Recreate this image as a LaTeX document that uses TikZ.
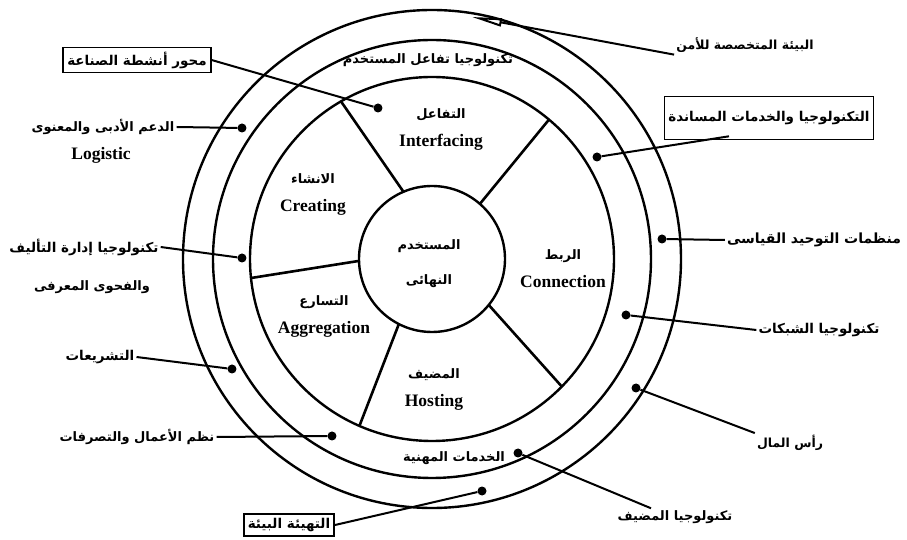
\documentclass[tikz,border=0pt]{standalone}
\usepackage{fontspec}
\setmainfont{Liberation Serif}
\newfontfamily\arabicfont[Script=Arabic]{DejaVu Sans}
\TeXXeTstate=1
\usetikzlibrary{arrows.meta}
\newcommand{\artxt}[1]{{\arabicfont\bfseries\beginR #1\endR}}
\newcommand{\sectxt}[2]{{\arabicfont\bfseries\fontsize{13}{14}\selectfont\beginR #1\endR}\\{\bfseries #2}}
\newcommand{\fsz}[1]{\fontsize{#1}{15}\selectfont}

\begin{document}
\begin{tikzpicture}[x=1pt,y=1pt,
  ring/.style={line width=2.4pt},
  spoke/.style={line width=2.6pt},
  link/.style={line width=2pt},
  dot/.style={circle,fill,inner sep=0pt,minimum size=9pt},
  sector/.style={align=center,font=\fontsize{17.5}{28}\selectfont},
  lbl/.style={inner sep=2pt,font=\fsz{13}},
  boxed/.style={lbl,font=\fsz{13.5},draw,line width=1.6pt,inner sep=4pt}]
\useasboundingbox (-432,-281) rectangle (475,259);
\coordinate (o) at (0,0);

% circles
\draw[ring] (o) circle[radius=73pt];
\draw[ring] (o) circle[radius=182pt];
\draw[ring] (o) circle[radius=219pt];
\draw[ring] (o) circle[radius=249pt];

% spokes
\draw[spoke] (113:73pt) -- (120:182pt);
\draw[spoke] (49:73pt) -- (50:182pt);
\draw[spoke] (181.5:73pt) -- (186:182pt);
\draw[spoke] (243:73pt) -- (246.5:182pt);
\draw[spoke] (-39:73pt) -- (-44.5:182pt);

% sectors
\node[sector,font=\fontsize{13}{35}\selectfont] (user) at (-3,-5) {\artxt{المستخدم}\\\artxt{النهائى}};
\node[sector] (interf) at (9,130) {\sectxt{التفاعل}{Interfacing}};
\node[sector] (create) at (-119,65) {\sectxt{الانشاء}{Creating}};
\node[sector] (connect) at (131,-10) {\sectxt{الربط}{Connection}};
\node[sector] (aggr) at (-108,-57) {\sectxt{التسارع}{Aggregation}};
\node[sector] (host) at (2,-130) {\sectxt{المضيف}{Hosting}};

% ring texts
\node[lbl] (uitech) at (-4,199) {\artxt{تكنولوجيا تفاعل المستخدم}};
\node[lbl] (prof) at (22,-199) {\artxt{الخدمات المهنية}};

% dots
\coordinate (tsec) at (40,242);
\node[dot] (dind) at (-54,151) {};
\node[dot] (dlog) at (-190,131) {};
\node[dot] (dcms) at (-190,1) {};
\node[dot] (dlaw) at (-200,-110) {};
\node[dot] (dbiz) at (-100,-177) {};
\node[dot] (denv) at (50,-232) {};
\node[dot] (dhost) at (86,-194) {};
\node[dot] (dcap) at (204,-129) {};
\node[dot] (dnet) at (194,-56) {};
\node[dot] (dstd) at (230,20) {};
\node[dot] (dsup) at (165,102) {};

% labels
\node[lbl,font=\fsz{12.5}] (sec) at (313,214) {\artxt{البيئة المتخصصة للأمن}};
\node[boxed] (ind) at (-295,199) {\artxt{محور أنشطة الصناعة}};
\node[lbl] (logar) at (-329,132) {\artxt{الدعم الأدبى والمعنوى}};
\node[sector] (loglat) at (-331,104) {\bfseries Logistic};
\node[lbl,font=\fsz{13.5}] (cms) at (-348,12) {\artxt{تكنولوجيا إدارة التأليف}};
\node[lbl] (cmsb) at (-340,-28) {\artxt{والفحوى المعرفى}};
\node[lbl,font=\fsz{13.5}] (law) at (-332,-98) {\artxt{التشريعات}};
\node[lbl] (biz) at (-295,-178) {\artxt{نظم الأعمال والتصرفات}};
\node[boxed] (env) at (-143,-266) {\artxt{التهيئة البيئة}};
\node[lbl] (hostt) at (243,-258) {\artxt{تكنولوجيا المضيف}};
\node[lbl,font=\fsz{12.5}] (cap) at (358,-184) {\artxt{رأس المال}};
\node[lbl,font=\fsz{13.5}] (net) at (387,-71) {\artxt{تكنولوجيا الشبكات}};
\node[lbl,font=\fsz{14}] (std) at (382,19) {\artxt{منظمات التوحيد القياسى}};
\node[boxed,minimum height=43pt] (sup) at (337,141) {\artxt{التكنولوجيا والخدمات المساندة}};

% connectors
\draw[link,-{Triangle[open,length=30pt,width=8pt]}] (sec.south west) -- (tsec);
\draw[link] (ind.east) -- (dind);
\draw[link] (logar.east) -- (dlog);
\draw[link] (cms.east) -- (dcms);
\draw[link] (law.east) -- (dlaw);
\draw[link] (biz.east) -- (dbiz);
\draw[link] (env.east) -- (denv);
\draw[link] (hostt.160) -- (dhost);
\draw[link] (cap.north west) -- (dcap);
\draw[link] (net.west) -- (dnet);
\draw[link] (std.west) -- (dstd);
\draw[link] ([xshift=-40pt,yshift=4pt]sup.south) -- (dsup);
\end{tikzpicture}
\end{document}
